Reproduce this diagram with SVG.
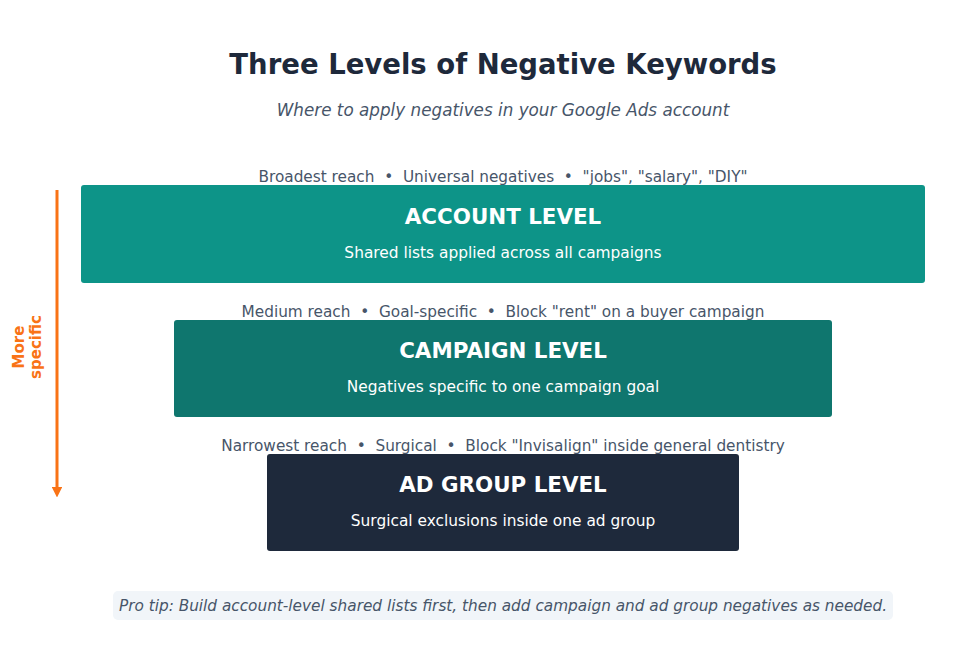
<svg xmlns="http://www.w3.org/2000/svg" width="978" height="648" viewBox="0 0 978 648">
<defs>
<style>
text{font-family:"DejaVu Sans","Noto Sans",sans-serif;text-anchor:middle;white-space:pre}
.title{font-size:27.5px;font-weight:bold;fill:#1e293b}
.sub{font-size:16.8px;font-style:italic;fill:#475569}
.note{font-size:15.3px;fill:#475569}
.bt{font-size:21.4px;font-weight:bold;fill:#ffffff}
.bs{font-size:15.4px;fill:#ffffff}
.tip{font-size:15.3px;font-style:italic;fill:#475569}
.side{font-size:15px;font-weight:bold;fill:#f97316}
</style>
<marker id="ah" viewBox="0 0 10 10" refX="4" refY="5" markerWidth="3.6" markerHeight="3.6" orient="auto" markerUnits="strokeWidth">
<path d="M0,0 L10,5 L0,10 z" fill="#f97316"/>
</marker>
</defs>
<rect width="978" height="648" fill="#ffffff"/>
<text class="title" x="503" y="74">Three Levels of Negative Keywords</text>
<text class="sub" x="503" y="116">Where to apply negatives in your Google Ads account</text>
<g id="connectors">
<line x1="57" y1="190" x2="57" y2="491" stroke="#f97316" stroke-width="3" marker-end="url(#ah)"/>
</g>
<g id="side-label">
<text class="side" transform="translate(27 347) rotate(-90)"><tspan x="0" y="-3">More</tspan><tspan x="0" y="14">specific</tspan></text>
</g>
<g id="account">
<text class="note" x="503" y="182" xml:space="preserve">Broadest reach  •  Universal negatives  •  "jobs", "salary", "DIY"</text>
<rect x="81" y="185" width="844" height="98" rx="3" fill="#0d9488"/>
<text class="bt" x="503" y="224">ACCOUNT LEVEL</text>
<text class="bs" x="503" y="258">Shared lists applied across all campaigns</text>
</g>
<g id="campaign">
<text class="note" x="503" y="317" xml:space="preserve">Medium reach  •  Goal-specific  •  Block "rent" on a buyer campaign</text>
<rect x="174" y="320" width="658" height="97" rx="3" fill="#0f766e"/>
<text class="bt" x="503" y="358">CAMPAIGN LEVEL</text>
<text class="bs" x="503" y="392">Negatives specific to one campaign goal</text>
</g>
<g id="adgroup">
<text class="note" x="503" y="451" xml:space="preserve">Narrowest reach  •  Surgical  •  Block "Invisalign" inside general dentistry</text>
<rect x="267" y="454" width="472" height="97" rx="3" fill="#1e293b"/>
<text class="bt" x="503" y="492">AD GROUP LEVEL</text>
<text class="bs" x="503" y="526">Surgical exclusions inside one ad group</text>
</g>
<g id="tip">
<rect x="113" y="591" width="780" height="29" rx="5" fill="#f1f5f9"/>
<text class="tip" x="503" y="611">Pro tip: Build account-level shared lists first, then add campaign and ad group negatives as needed.</text>
</g>
</svg>
